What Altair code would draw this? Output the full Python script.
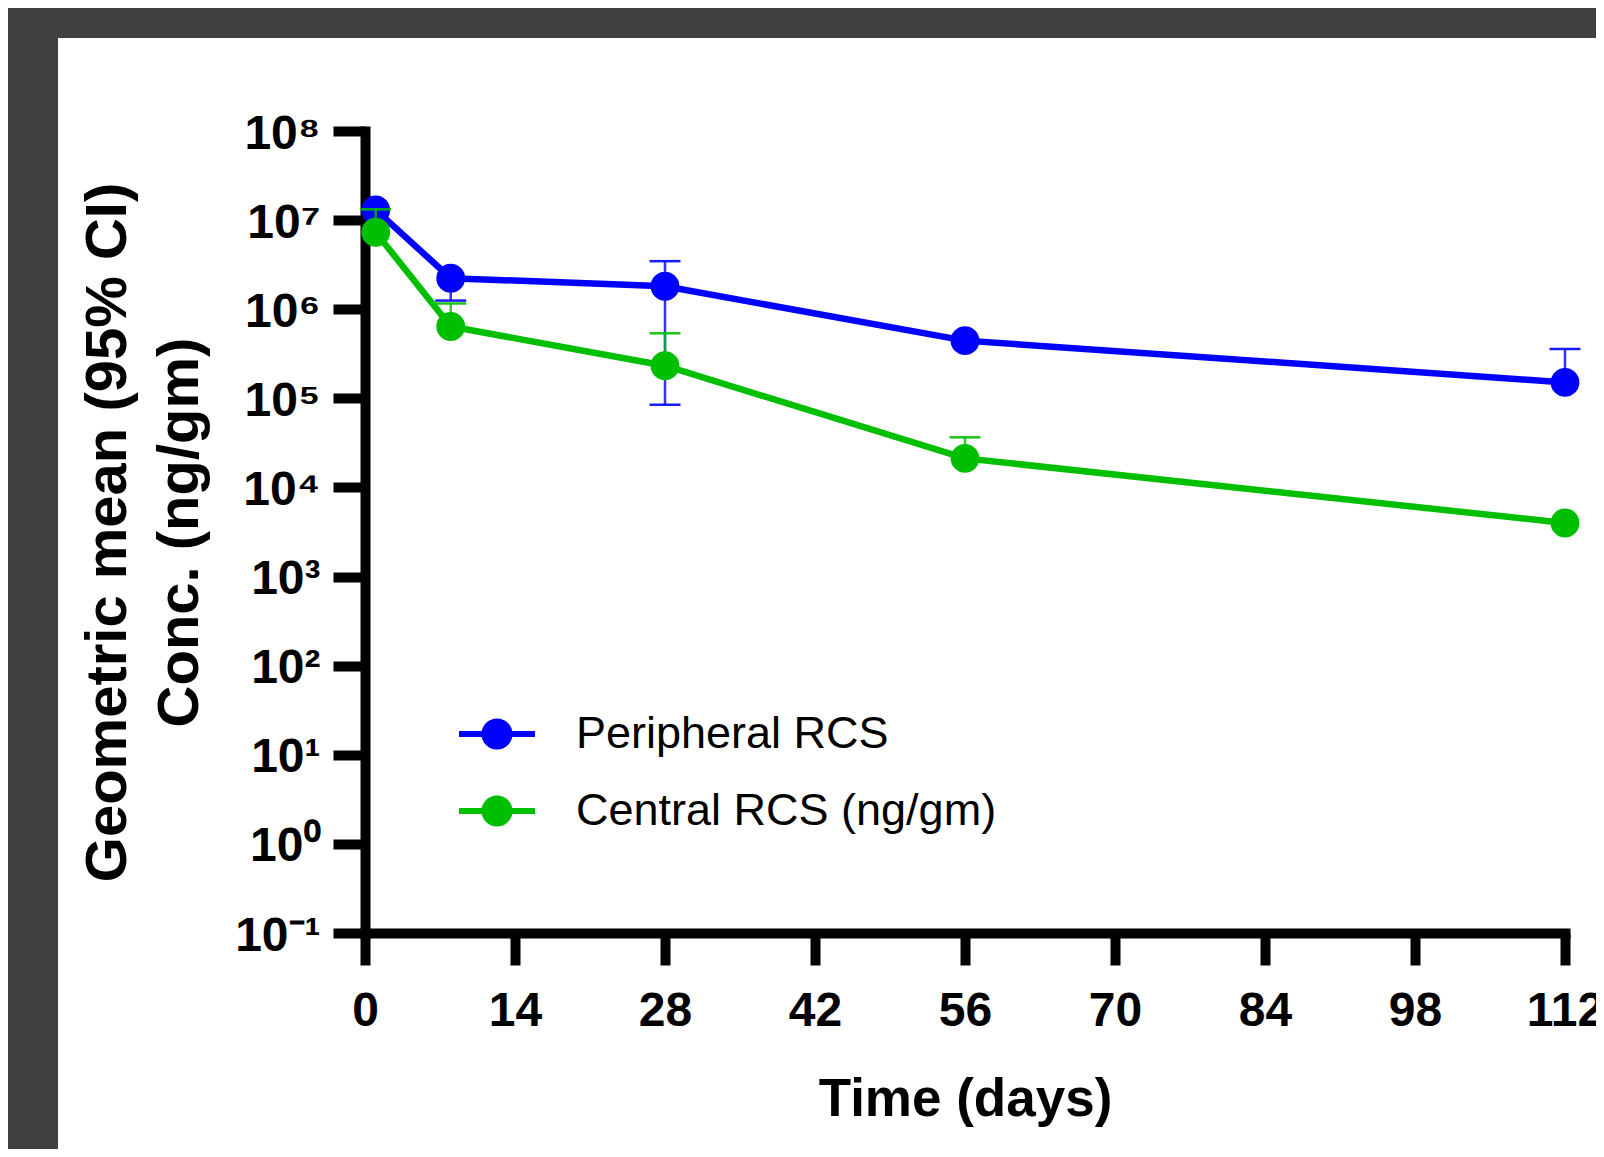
import altair as alt
import pandas as pd

# ---------------- data ----------------
series_names = ["Peripheral RCS", "Central RCS (ng/gm)"]
series_colors = ["#0000FF", "#00BF00"]
days = [1, 8, 28, 56, 112]
peripheral = [1.3e7, 2.23e6, 1.81e6, 4.44e5, 1.51e5]
central = [7.3e6, 6.4e5, 2.32e5, 2.12e4, 3.99e3]
# visible CI ends (None = hidden behind the marker)
peripheral_lower = [None, 1.25e6, 8.47e4, None, None]
peripheral_upper = [None, None, 3.46e6, None, 3.58e5]
central_lower = [None, None, None, None, None]
central_upper = [1.32e7, 1.16e6, 5.37e5, 3.65e4, None]

x_ticks = [0, 14, 28, 42, 56, 70, 84, 98, 112]
y_ticks = [0.1, 1, 10, 100, 1e3, 1e4, 1e5, 1e6, 1e7, 1e8]
y_tick_labels = ["10⁻¹", "10⁰", "10¹", "10²", "10³", "10⁴", "10⁵", "10⁶", "10⁷", "10⁸"]

x_title = "Time (days)"
y_title = ["Geometric mean (95% CI)", "Conc. (ng/gm)"]

# ---------------- tables ----------------
values = {series_names[0]: peripheral, series_names[1]: central}
lowers = {series_names[0]: peripheral_lower, series_names[1]: central_lower}
uppers = {series_names[0]: peripheral_upper, series_names[1]: central_upper}

rows = []
err_rows = []
for s in series_names:
    for d, v, lo, hi in zip(days, values[s], lowers[s], uppers[s]):
        rows.append({"series": s, "day": d, "value": v})
        for b in (lo, hi):
            if b is not None:
                err_rows.append({"series": s, "day": d, "value": v, "bound": b})
df = pd.DataFrame(rows)
err_df = pd.DataFrame(err_rows)

FONT = "Liberation Sans"
W, H = 1200, 802
PAD = {"left": 357, "top": 123, "right": 31, "bottom": 216}

xscale = alt.Scale(domain=[0, 112], nice=False, zero=False)
yscale = alt.Scale(type="log", domain=[0.1, 1e8], nice=False)

# label expression from the label list
expr = "'" + y_tick_labels[-1] + "'"
for t, lab in reversed(list(zip(y_ticks[:-1], y_tick_labels[:-1]))):
    expr = f"datum.value < {t * 3} ? '{lab}' : ({expr})"

x_axis = alt.Axis(
    values=x_ticks, format="d", title=x_title, grid=False,
    domainColor="black", domainWidth=10, domainCap="square",
    tickColor="black", tickWidth=10, tickSize=32,
    labelFont=FONT, labelFontSize=48, labelFontWeight="bold", labelColor="black",
    labelBaseline="alphabetic", labelPadding=60, labelFlush=False, labelOverlap=False,
    titleFont=FONT, titleFontSize=53, titleFontWeight="bold", titleColor="black",
    titleBaseline="alphabetic", titleX=600, titleY=182, titleAlign="center",
)
y_axis = alt.Axis(
    values=y_ticks, labelExpr=expr, title=y_title, grid=False,
    domainColor="black", domainWidth=10, domainCap="square",
    tickColor="black", tickWidth=10, tickSize=32,
    labelFont=FONT, labelFontSize=48, labelFontWeight="bold", labelColor="black",
    labelBaseline="alphabetic", labelOffset=17, labelPadding=13, labelOverlap=False,
    titleFont=FONT, titleFontSize=58, titleFontWeight="bold", titleColor="black",
    titleAngle=270, titleBaseline="alphabetic", titleLineHeight=72,
    titleX=-240, titleY=401, titleAlign="center",
)

# legend symbol: line through a circle
r, k = 0.33, 0.33 * 0.5523
sym = (f"M-1,0L1,0M{r},0C{r},{k},{k},{r},0,{r}C{-k},{r},{-r},{k},{-r},0"
       f"C{-r},{-k},{-k},{-r},0,{-r}C{k},{-r},{r},{-k},{r},0Z")
legend = alt.Legend(
    title=None, orient="none", legendX=91, legendY=562, padding=0,
    symbolType=sym, symbolSize=5776, symbolStrokeWidth=6, symbolOpacity=1,
    labelFont=FONT, labelFontSize=45, labelColor="black", labelOffset=38,
    labelLimit=800, rowPadding=11,
)
fill_scale = alt.Scale(domain=series_names, range=series_colors)
stroke_scale = alt.Scale(domain=series_names, range=series_colors)

base = alt.Chart(df)
err_base = alt.Chart(err_df)

layers = []
# dark frame bands around the white panel (decoration)
frame = alt.Chart(pd.DataFrame({"band": ["top", "left"],
                                "x": [-PAD["left"], -PAD["left"]],
                                "x2": [W + PAD["right"], -307],
                                "y": [-PAD["top"], -PAD["top"]],
                                "y2": [-93, H + PAD["bottom"]]}))
layers.append(frame.mark_rect(color="#404040").encode(
    x=alt.X("x:Q", scale=None), x2="x2:Q",
    y=alt.Y("y:Q", scale=None), y2="y2:Q"))

for s, c in zip(series_names, series_colors):
    e = err_base.transform_filter(alt.datum.series == s)
    layers.append(e.mark_rule(color=c, strokeWidth=2.5, opacity=0.8).encode(
        x=alt.X("day:Q", scale=xscale, axis=x_axis),
        y=alt.Y("value:Q", scale=yscale, axis=y_axis),
        y2="bound:Q"))
    layers.append(e.mark_tick(color=c, orient="horizontal", size=31, thickness=2.5, opacity=0.9).encode(
        x=alt.X("day:Q", scale=xscale),
        y=alt.Y("bound:Q", scale=yscale)))
    b = base.transform_filter(alt.datum.series == s)
    layers.append(b.mark_line(color=c, strokeWidth=6.5).encode(
        x=alt.X("day:Q", scale=xscale),
        y=alt.Y("value:Q", scale=yscale)))
    layers.append(b.mark_circle(size=720, opacity=1, strokeWidth=2).encode(
        x=alt.X("day:Q", scale=xscale),
        y=alt.Y("value:Q", scale=yscale),
        fill=alt.Fill("series:N", scale=fill_scale, legend=legend, sort=series_names),
        stroke=alt.Stroke("series:N", scale=stroke_scale, legend=legend, sort=series_names)))

chart = alt.layer(*layers).properties(
    width=W, height=H,
    autosize=alt.AutoSizeParams(type="none"),
    padding=PAD,
    background="white",
).configure_view(strokeWidth=0)

chart.save("out.html", embed_options={"renderer": "svg", "actions": False})
